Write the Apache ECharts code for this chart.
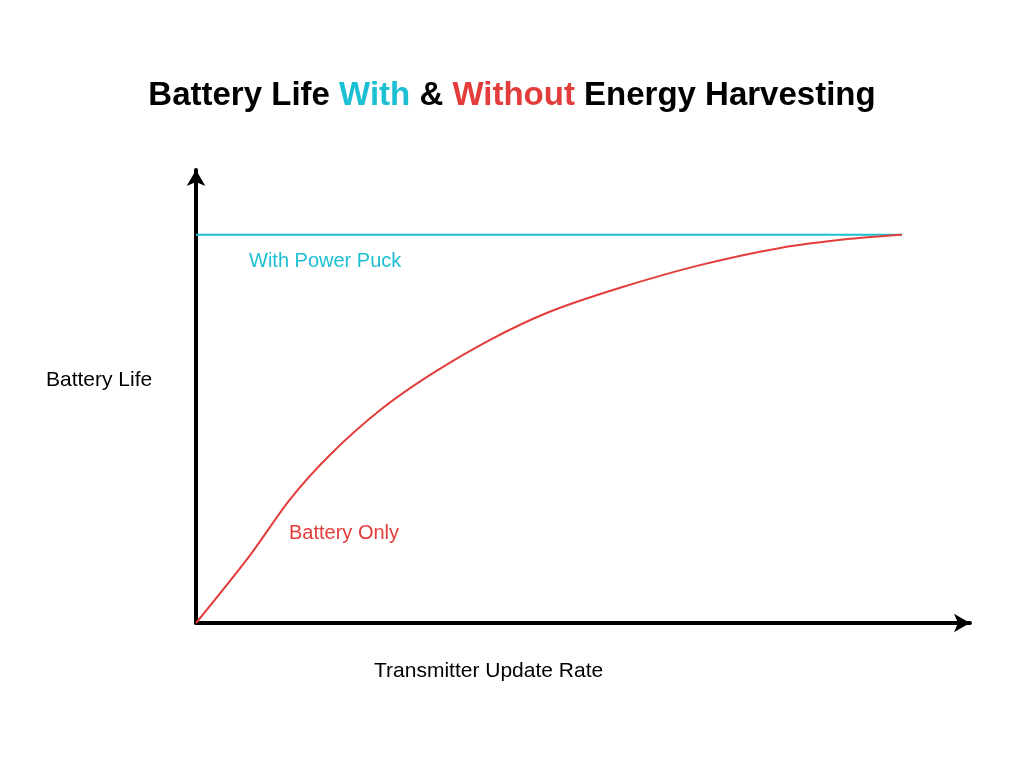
<!DOCTYPE html>
<html lang="en">
<head>
    <meta charset="UTF-8">
    <title>Battery Life</title>
    <script src="https://cdn.jsdelivr.net/npm/echarts@6/dist/echarts.min.js"></script>
</head>
<body style="margin:0;width:1024px;height:768px;background:#fff">
    <div id="container" style="width:1024px;height:768px"></div>
</body>
<script>
    // x: update rate (0-100), y: battery life (0-100)
    var puckX = [0, 91.2];
    var puckY = [85.7, 85.7];
    var batteryX = [0, 7.0, 12.1, 17.3, 23.8, 30.2, 38.0, 45.7, 54.8, 65.1, 75.5, 84.5, 91.2];
    var batteryY = [0, 15.0, 27.2, 37.1, 47.0, 54.7, 62.5, 68.7, 74.0, 79.0, 82.8, 84.8, 85.7];

    function pairs(xs, ys) {
        return xs.map(function (x, i) { return [x, ys[i]]; });
    }

    var cyan = '#1dbfd3';
    var red = '#e33d3b';
    var font = '"Liberation Sans", Arial, sans-serif';

    var dom = document.getElementById("container");
    var myChart = echarts.init(dom);

    var axisCommon = {
        type: 'value', min: 0, max: 100,
        axisLine: { show: true, symbol: ['none', 'arrow'], symbolSize: [14, 16], lineStyle: { color: '#000', width: 4 } },
        axisTick: { show: false }, axisLabel: { show: false }, splitLine: { show: false }
    };

    var option = {
        animation: false,
        title: {
            text: '{b|Battery Life }{c|With}{b| & }{r|Without}{b| Energy Harvesting}',
            left: 'center', top: 74,
            textStyle: {
                rich: {
                    b: { fontSize: 33, fontWeight: 'bold', color: '#000', fontFamily: font },
                    c: { fontSize: 33, fontWeight: 'bold', color: cyan, fontFamily: font },
                    r: { fontSize: 33, fontWeight: 'bold', color: red, fontFamily: font }
                }
            }
        },
        grid: { left: 196, right: 54, top: 170, bottom: 145 },
        xAxis: axisCommon,
        yAxis: axisCommon,
        graphic: [
            { type: 'text', left: 46, top: 370, style: { text: 'Battery Life', fontSize: 21, fill: '#000', fontFamily: font } },
            { type: 'text', left: 374, top: 661, style: { text: 'Transmitter Update Rate', fontSize: 21, fill: '#000', fontFamily: font } },
            { type: 'text', left: 249, top: 251, style: { text: 'With Power Puck', fontSize: 20, fill: cyan, fontFamily: font } },
            { type: 'text', left: 289, top: 523, style: { text: 'Battery Only', fontSize: 20, fill: red, fontFamily: font } }
        ],
        series: [
            { type: 'line', data: pairs(puckX, puckY), showSymbol: false, lineStyle: { color: cyan, width: 2 } },
            { type: 'line', data: pairs(batteryX, batteryY), smooth: 0.3, showSymbol: false, lineStyle: { color: red, width: 2 } }
        ]
    };
    myChart.setOption(option, true);
</script>
</html>
